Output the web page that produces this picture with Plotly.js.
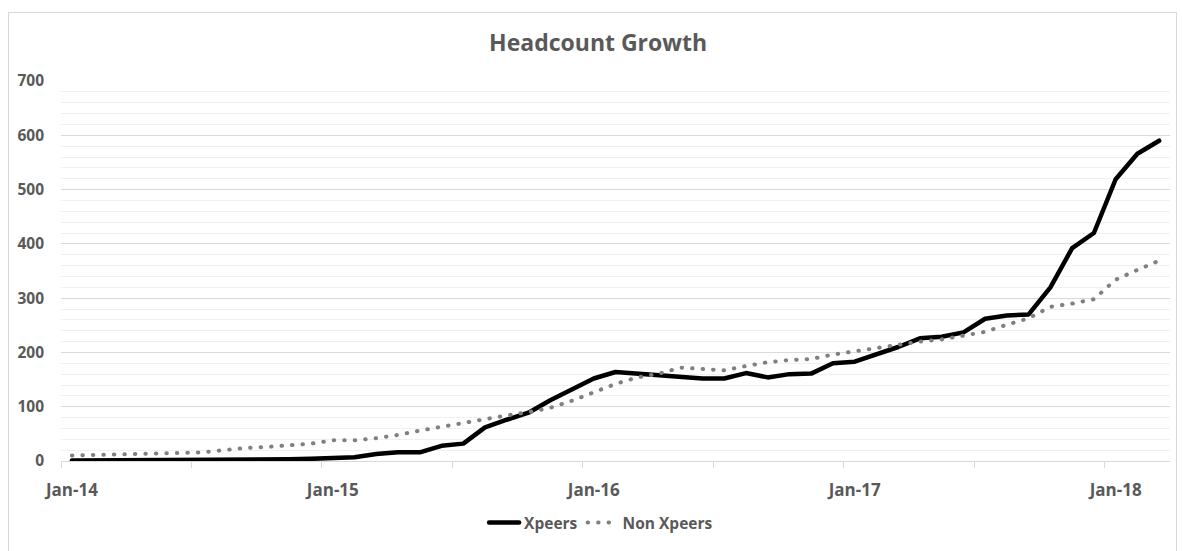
<!DOCTYPE html>
<html><head><meta charset="utf-8">
<script src="https://cdn.plot.ly/plotly-3.0.1.min.js"></script>
<style>
html,body{margin:0;padding:0;background:#fff;}
#wrap{position:relative;width:1182px;height:551px;overflow:hidden;}
#chart{position:absolute;left:0;top:0;width:1182px;height:551px;}
#frame{position:absolute;left:8px;top:12px;width:1169px;height:560px;border:1px solid #d9d9d9;box-sizing:border-box;pointer-events:none;}
.js-line{stroke-linecap:round;stroke-linejoin:round;}
</style></head>
<body><div id="wrap"><div id="chart"></div><div id="frame"></div></div>
<script>
const months = [
  "Jan-14","Feb-14","Mar-14","Apr-14","May-14","Jun-14","Jul-14","Aug-14","Sep-14","Oct-14","Nov-14","Dec-14",
  "Jan-15","Feb-15","Mar-15","Apr-15","May-15","Jun-15","Jul-15","Aug-15","Sep-15","Oct-15","Nov-15","Dec-15",
  "Jan-16","Feb-16","Mar-16","Apr-16","May-16","Jun-16","Jul-16","Aug-16","Sep-16","Oct-16","Nov-16","Dec-16",
  "Jan-17","Feb-17","Mar-17","Apr-17","May-17","Jun-17","Jul-17","Aug-17","Sep-17","Oct-17","Nov-17","Dec-17",
  "Jan-18","Feb-18","Mar-18"
];
const xpeers = [
  1,1,1,1,1,1,1,1,1,2,3,4,
  6,7,13,16,16,28,32,62,76,89,112,133,
  152,164,161,158,155,152,152,162,154,160,161,180,
  183,196,210,226,229,237,262,268,270,320,392,420,
  519,566,590
];
const nonXpeers = [
  10,11,13,13,14,15,16,20,24,26,29,32,
  38,38,42,48,56,63,71,77,84,90,98,111,
  126,142,154,161,172,170,167,175,182,186,188,196,
  202,207,213,220,224,231,238,251,263,284,290,298,
  334,352,369
];
const tickLabels = ["Jan-14","Jan-15","Jan-16","Jan-17","Jan-18"];

const idx = months.map((m, i) => i);
const tickIdx = tickLabels.map(t => months.indexOf(t));
const txtColor = '#595959';
const fam = 'Open Sans, Lato, sans-serif';

const traces = [
  {
    x: idx, y: xpeers, text: months, name: 'Xpeers', type: 'scatter', mode: 'lines',
    line: {color: '#000000', width: 4.5}
  },
  {
    x: idx, y: nonXpeers, text: months, name: 'Non Xpeers', type: 'scatter', mode: 'lines',
    line: {color: '#808080', width: 4, dash: '0.5px,10px'}
  }
];

const layout = {
  width: 1182, height: 551,
  margin: {l: 61, r: 12, t: 81, b: 89},
  paper_bgcolor: 'rgba(0,0,0,0)', plot_bgcolor: 'rgba(0,0,0,0)',
  showlegend: true,
  title: {
    text: 'Headcount Growth',
    font: {family: fam, size: 23, color: txtColor, weight: 'bold'},
    x: 0.506, xref: 'container', xanchor: 'center',
    y: 0.922, yref: 'container', yanchor: 'middle'
  },
  xaxis: {
    range: [-0.5, months.length - 0.5],
    tickmode: 'array', tickvals: tickIdx, ticktext: tickLabels,
    ticks: '', showgrid: false, zeroline: false,
    showline: true, linecolor: '#d9d9d9', linewidth: 1,
    tickfont: {family: fam, size: 17, color: txtColor, weight: 'bold'},
    ticklabelstandoff: 14,
    minor: {tick0: -0.5, dtick: 6, ticks: 'outside', ticklen: 6, tickcolor: '#d9d9d9', tickwidth: 1, showgrid: false}
  },
  yaxis: {
    range: [0, 700], tick0: 0, dtick: 100,
    ticks: '', showgrid: true, gridcolor: '#d9d9d9', gridwidth: 1,
    zeroline: false, showline: false,
    tickfont: {family: fam, size: 15.5, color: txtColor, weight: 'bold'},
    ticklabelstandoff: 16,
    minor: {tick0: 0, dtick: 20, showgrid: true, gridcolor: '#f0f0f0', gridwidth: 1}
  },
  legend: {
    orientation: 'h', x: 0.487, xanchor: 'center', y: -0.16, yanchor: 'middle',
    font: {family: fam, size: 15.5, color: txtColor, weight: 'bold'},
    traceorder: 'normal'
  },
  hovermode: false
};

Plotly.newPlot('chart', traces, layout, {displayModeBar: false, staticPlot: true});
</script>
</body></html>
